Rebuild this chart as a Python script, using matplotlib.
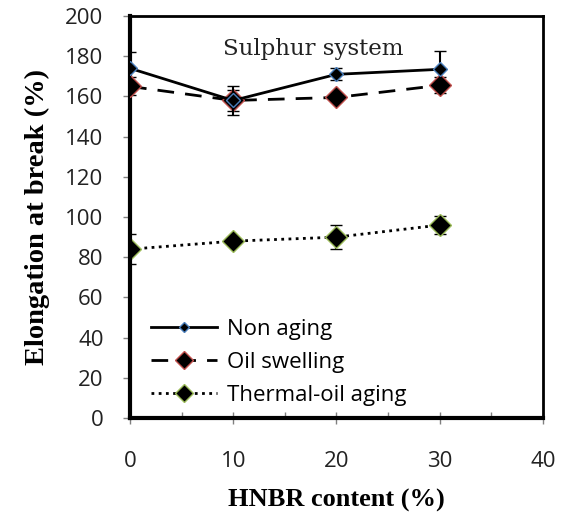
import matplotlib.pyplot as plt
from matplotlib.lines import Line2D
from matplotlib.ticker import MultipleLocator

# HNBR content (%)
hnbr = [0, 10, 20, 30]

non_aging = [174, 158, 171, 173.5]
non_aging_err = [8, 7, 3, 9]

oil_swelling = [165, 158, 159.5, 165.5]
oil_swelling_err = [4.5, 5, 1, 4]

thermal_oil = [84, 88, 90, 96]
thermal_oil_err = [7.5, 2, 6, 4.5]

fig = plt.figure(figsize=(5.64, 5.18), dpi=100)
ax = fig.add_axes([0.2305, 0.193, 0.732, 0.776])

styles = [
    (non_aging, non_aging_err, '-', 7, '#4a7ebb', 'Non aging'),
    (oil_swelling, oil_swelling_err, (0, (6, 4)), 11, '#c0504d', 'Oil swelling'),
    (thermal_oil, thermal_oil_err, (0, (1, 1.6)), 11, '#9bbb59', 'Thermal-oil aging'),
]
handles = []
for i, (vals, err, ls, ms, edge, name) in enumerate(styles):
    ax.errorbar(hnbr, vals, yerr=err, color='black', lw=2, ls=ls,
                marker='D', ms=ms, mfc='black', mec=edge, mew=1,
                capsize=4.5, capthick=1.5, elinewidth=1.5, zorder=4 - i)
    handles.append(Line2D([], [], color='black', lw=2, ls=ls, marker='D',
                          ms=ms * 0.8, mfc='black', mec=edge, mew=1, label=name))

ax.set_xlim(0, 40)
ax.set_ylim(0, 200)
ax.xaxis.set_major_locator(MultipleLocator(10))
ax.xaxis.set_minor_locator(MultipleLocator(5))
ax.yaxis.set_major_locator(MultipleLocator(20))

ax.tick_params(axis='y', which='major', direction='out', length=5, width=1,
               color='#808080', labelsize=16, pad=14)
ax.tick_params(axis='x', which='major', direction='inout', length=8, width=1,
               color='#808080', labelsize=16, pad=20)
ax.tick_params(axis='x', which='minor', direction='in', length=4, width=1, color='#808080')
for lbl in ax.get_xticklabels() + ax.get_yticklabels():
    lbl.set_fontfamily('Open Sans')
    lbl.set_color('#222222')

for side in ['left', 'bottom']:
    ax.spines[side].set_linewidth(3)
for side in ['top', 'right']:
    ax.spines[side].set_linewidth(2)

ax.set_xlabel('HNBR content (%)', fontsize=19, fontweight='bold',
              fontfamily='Liberation Serif', labelpad=12)
ax.set_ylabel('Elongation at break (%)', fontsize=20.5, fontweight='bold',
              fontfamily='Liberation Serif', labelpad=11)

ax.text(17.8, 183.5, 'Sulphur system', fontsize=16.5,
        fontfamily='DejaVu Serif', color='#222222', ha='center', va='center')

ax.legend(handles=handles, loc='lower left', bbox_to_anchor=(0.05, 0.03),
          frameon=False, prop={'family': 'Open Sans', 'size': 16},
          handlelength=3.0, handletextpad=0.43, labelspacing=0.55,
          borderaxespad=0, borderpad=0)

fig.savefig('out.png', dpi=100)
